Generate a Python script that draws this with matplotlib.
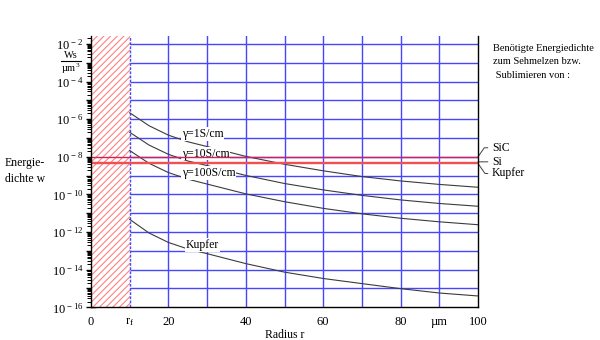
import matplotlib
matplotlib.use('Agg')
import matplotlib.pyplot as plt
import matplotlib.ticker as ticker
import numpy as np

plt.rcParams['font.family'] = ['Liberation Serif', 'DejaVu Serif']
plt.rcParams['mathtext.fontset'] = 'custom'
plt.rcParams['mathtext.rm'] = 'Liberation Serif'
plt.rcParams['mathtext.it'] = 'Liberation Serif:italic'
plt.rcParams['hatch.linewidth'] = 0.8

# radius in um
r = [10, 15, 20, 25, 30, 40, 50, 60, 70, 80, 90, 100]

# energy density Ws/um^3 for the three conductivities and copper
w_g1 = [2.19e-6, 4.47e-7, 1.41e-7, 6.3e-8, 3.5e-8, 1.05e-8, 4.0e-9, 1.8e-9,
        8.9e-10, 5.2e-10, 3.4e-10, 2.4e-10]
w_g10 = [2.0e-7, 4.2e-8, 1.35e-8, 6.0e-9, 3.4e-9, 1.02e-9, 3.8e-10, 1.74e-10,
         8.9e-11, 5.1e-11, 3.3e-11, 2.35e-11]
w_g100 = [2.14e-8, 4.5e-9, 1.45e-9, 6.5e-10, 3.55e-10, 1.07e-10, 4.1e-11,
          1.82e-11, 9.3e-12, 5.4e-12, 3.5e-12, 2.45e-12]
w_cu = [4.7e-12, 8.9e-13, 2.8e-13, 1.26e-13, 7.1e-14, 2.1e-14, 7.4e-15,
        3.4e-15, 1.82e-15, 9.8e-16, 5.75e-16, 4.0e-16]

curve_names = ['\u03b3=1S/cm', '\u03b3=10S/cm', '\u03b3=100S/cm', 'Kupfer']

# energy needed for melting / sublimation
mat_names = ['SiC', 'Si', 'Kupfer']
mat_w = [1.0e-8, 5.4e-9, 4.4e-9]

r_f = 10
x_ticks = [0, 10, 20, 40, 60, 80, 90, 100]
x_ticklabels = ['0', 'r$_\\mathrm{f}$', '20', '40', '60', '80', '\u00b5m', '100']

blue = '#4646ff'

fig = plt.figure(figsize=(6, 3.4), dpi=100)
ax = fig.add_axes([91 / 600, 1 - 307.3 / 340, 387 / 600, 271.3 / 340])
ax.set_yscale('log')
ax.set_xlim(0, 100)
ax.set_ylim(1e-16, 10 ** -1.58)

# forbidden zone inside the fibre radius
ax.axvspan(0, r_f, facecolor='white', edgecolor='#ff8080', hatch='/////',
           linewidth=0, zorder=2)

# grid
decades = [10.0 ** e for e in range(-15, -1)]
ax.hlines(decades, r_f, 100, colors=blue, linewidth=1, zorder=1)
for xv in range(10, 100, 10):
    ax.axvline(xv, color=blue, linewidth=1, zorder=3 if xv == r_f else 1,
               linestyle=(0, (2, 1)) if xv == r_f else '-')

for w in [w_g1, w_g10, w_g100, w_cu]:
    ax.plot(r, w, color='#3c3c3c', linewidth=0.8, zorder=4)

# inline curve labels
lab_pos = [(23.5, 1.6e-7), (23.5, 1.45e-8), (23.5, 1.4e-9), (24.5, 2.0e-13)]
for name, (xp, yp) in zip(curve_names, lab_pos):
    ax.text(xp, yp, name, fontsize=8.5, va='center', ha='left', zorder=5,
            bbox=dict(facecolor='white', edgecolor='none', pad=0.5))

mat_cols = ['#d2205a', '#f25050', '#f25050']
for w, c in zip(mat_w, mat_cols):
    ax.axhline(w, color=c, linewidth=1, zorder=6)

# leaders to material names
offs = [(14, 9), (14, 0), (14, -10)]
conns = ['angle,angleA=0,angleB=55,rad=0', 'arc3,rad=0',
         'angle,angleA=0,angleB=-55,rad=0']
for name, w, (dx, dy), cs in zip(mat_names, mat_w, offs, conns):
    ax.annotate(name, xy=(100, w), xytext=(dx, dy), textcoords='offset pixels',
                fontsize=8.5, va='center', ha='left', annotation_clip=False,
                arrowprops=dict(arrowstyle='-', color='#404040', lw=0.7,
                                connectionstyle=cs, shrinkA=1, shrinkB=0))

# y axis
ax.yaxis.set_major_locator(ticker.FixedLocator([10.0 ** e for e in range(-16, -1)]))
ax.yaxis.set_major_formatter(ticker.FuncFormatter(
    lambda v, pos: '10$^{\\,%d}$' % round(np.log10(v)) if round(np.log10(v)) % 2 == 0 else ''))
ax.yaxis.set_minor_locator(ticker.LogLocator(base=10, subs=np.arange(2, 10), numticks=30))
ax.yaxis.set_minor_formatter(ticker.NullFormatter())
ax.tick_params(axis='y', which='major', direction='inout', length=7, width=1,
               labelsize=9, pad=2)
ax.tick_params(axis='y', which='minor', direction='out', length=3, width=0.7)

# x axis
ax.set_xticks(x_ticks)
ax.set_xticklabels(x_ticklabels)
ax.set_xticks([0, 100], minor=True)
ax.tick_params(axis='x', which='major', length=0, labelsize=9, pad=6)
ax.tick_params(axis='x', which='minor', direction='out', length=4, width=1)
ax.set_xlabel('Radius r', fontsize=8.5, labelpad=1)

ax.spines['top'].set_visible(False)
for s in ['left', 'bottom', 'right']:
    ax.spines[s].set_linewidth(1)
    ax.spines[s].set_zorder(7)

# unit and axis title on the left
fig.text(71 / 600, 1 - 58.5 / 340, 'Ws', fontsize=7.5, ha='center', va='baseline')
fig.add_artist(plt.Line2D([61 / 600, 81 / 600], [1 - 60.5 / 340, 1 - 60.5 / 340],
                          color='black', linewidth=0.8))
fig.text(71 / 600, 1 - 61.5 / 340, '\u00b5m$^3$', fontsize=7.5, ha='center', va='top')
fig.text(5 / 600, 1 - 171 / 340, 'Energie-\ndichte w', fontsize=8.5,
         ha='left', va='center', linespacing=1.35)

fig.text(493 / 600, 1 - 62 / 340,
         'Benötigte Energiedichte\nzum Sehmelzen bzw.\n Sublimieren von :',
         fontsize=7.5, ha='left', va='center', linespacing=1.6)

fig.savefig('out.png', dpi=100)
